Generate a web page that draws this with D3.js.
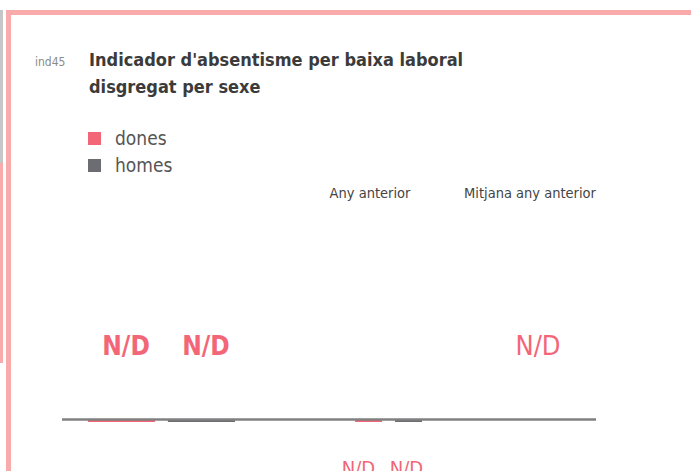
<!DOCTYPE html>
<html>
<head>
<meta charset="utf-8">
<script src="https://cdn.jsdelivr.net/npm/d3@7"></script>
<style>
  html, body { margin: 0; padding: 0; background: #fff; overflow: hidden; }
  svg { display: block; }
  .cond { font-family: "Liberation Sans Narrow", "DejaVu Sans Condensed", sans-serif; }
  .condb { font-family: "DejaVu Sans Condensed", "Liberation Sans Narrow", sans-serif; font-weight: bold; }
</style>
</head>
<body>
<svg id="chart" width="691" height="471"></svg>
<script>
// Indicator data: current period, previous year, previous-year average.
const indicatorCode = "ind45";
const titleLines = ["Indicador d'absentisme per baixa laboral", "disgregat per sexe"];
const sexes = ["dones", "homes"];
const seriesColors = ["#f26677", "#6c6d72"];
const periods = ["actual", "Any anterior", "Mitjana any anterior"];
// null = no data available (N/D)
const currentValues = [null, null];
const previousYearValues = [null, null];
const previousAverageValue = [null];
const missingLabel = "N/D";

const svg = d3.select("#chart");

// card frame and side strip
svg.append("rect").attr("x", 0).attr("y", 10).attr("width", 3).attr("height", 153).attr("fill", "#c6c6c6");
svg.append("rect").attr("x", 0).attr("y", 163).attr("width", 3).attr("height", 200).attr("fill", "#f9abab");
svg.append("rect").attr("x", 8.5).attr("y", 12.5).attr("width", 900).attr("height", 900)
  .attr("fill", "#fff").attr("stroke", "#f9abab").attr("stroke-width", 5);

// header
svg.append("text").attr("x", 35).attr("y", 66).attr("fill", "#8a8a8a")
  .attr("font-family", "'Liberation Sans Narrow', 'DejaVu Sans Condensed', sans-serif")
  .attr("font-size", 12).text(indicatorCode);
svg.append("g").selectAll("text").data(titleLines).join("text")
  .attr("class", "condb")
  .attr("x", 89).attr("y", (d, i) => 66 + i * 27)
  .attr("font-size", 18).attr("fill", "#3b3b3b").text(d => d);

// legend
const legend = svg.append("g").selectAll("g").data(sexes).join("g")
  .attr("transform", (d, i) => `translate(88,${132 + i * 27})`);
legend.append("rect").attr("width", 13).attr("height", 13).attr("fill", (d, i) => seriesColors[i]);
legend.append("text").attr("class", "cond").attr("x", 27).attr("y", 13)
  .attr("font-size", 19).attr("fill", "#555").text(d => d);

// scales
const y = d3.scaleLinear().domain([0, 1]).range([420, 250]);
const colCenter = d3.scaleOrdinal().domain(periods).range([161.5, 388.5, 538]);
const xCurrent = d3.scaleBand().domain(sexes).range([88, 235]).paddingInner(0.16);
const xPrev = d3.scaleBand().domain(sexes).range([355, 422]).paddingInner(0.325);

// column headings
svg.append("g").selectAll("text").data([
    { label: periods[1], x: 370 },
    { label: periods[2], x: 530 }
  ]).join("text")
  .attr("class", "cond").attr("text-anchor", "middle")
  .attr("x", d => d.x).attr("y", 198).attr("font-size", 14.5).attr("fill", "#444")
  .text(d => d.label);

function barHeight(v) { return v == null ? 2 : Math.max(2, y(0) - y(v)); }

// current bars
const cur = sexes.map((s, i) => ({ s, v: currentValues[i], c: seriesColors[i] }));
svg.append("g").selectAll("rect").data(cur).join("rect")
  .attr("x", d => xCurrent(d.s)).attr("width", xCurrent.bandwidth())
  .attr("y", d => d.v == null ? y(0) : y(d.v)).attr("height", d => barHeight(d.v))
  .attr("fill", d => d.c);
svg.append("g").selectAll("text").data(cur).join("text")
  .attr("class", "condb").attr("text-anchor", "middle")
  .attr("x", d => xCurrent(d.s) + xCurrent.bandwidth() / 2 + 4.5)
  .attr("y", 355).attr("font-size", 26).attr("fill", "#f26677")
  .text(d => d.v == null ? missingLabel : d3.format(".2f")(d.v));

// previous year bars
const prev = sexes.map((s, i) => ({ s, v: previousYearValues[i], c: seriesColors[i] }));
svg.append("g").selectAll("rect").data(prev).join("rect")
  .attr("x", d => xPrev(d.s)).attr("width", xPrev.bandwidth())
  .attr("y", d => d.v == null ? y(0) : y(d.v)).attr("height", d => barHeight(d.v))
  .attr("fill", d => d.c);
svg.append("g").selectAll("text").data(prev).join("text")
  .attr("class", "cond").attr("text-anchor", "middle")
  .attr("x", (d, i) => xPrev(d.s) + xPrev.bandwidth() / 2 + (i === 0 ? -10 : -2))
  .attr("y", 475).attr("font-size", 20).attr("fill", "#f26677")
  .text(d => d.v == null ? missingLabel : d3.format(".2f")(d.v));

// previous-year average
svg.append("g").selectAll("text").data(previousAverageValue).join("text")
  .attr("class", "cond").attr("text-anchor", "middle")
  .attr("x", colCenter(periods[2])).attr("y", 355).attr("font-size", 27).attr("fill", "#f26677")
  .text(d => d == null ? missingLabel : d3.format(".2f")(d));

// baseline axis
svg.append("line").attr("x1", 62).attr("x2", 596).attr("y1", y(0) - 0.5).attr("y2", y(0) - 0.5)
  .attr("stroke", "#808080").attr("stroke-width", 2.5);
</script>
</body>
</html>
